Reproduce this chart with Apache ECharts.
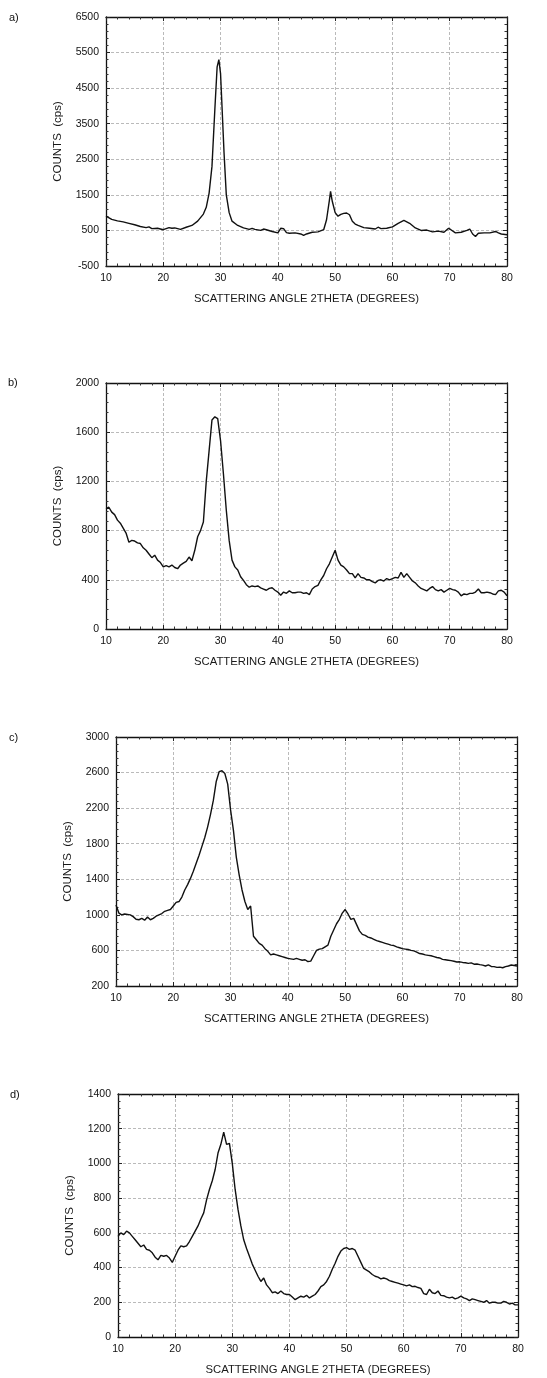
<!DOCTYPE html>
<html>
<head>
<meta charset="utf-8">
<script src="https://cdn.jsdelivr.net/npm/echarts@6/dist/echarts.min.js"></script>
<style>
  html, body { margin: 0; padding: 0; background: #fff; }
  #chart { width: 547px; height: 1378px; }
</style>
</head>
<body>
<div id="chart"></div>
<script>
// panel a) - 2theta positions and counts (cps)
const angleA = [
  10,11,12,13,14,15,16,17,17.5,18,
  19,20,21,21.5,22,23,24,25,26,27,
  27.5,28,28.5,29,29.4,29.7,30,30.3,30.6,31,
  31.5,32,33,34,35,35.5,36,37,37.5,38,
  39,40,40.5,41,41.5,42,43,44,44.5,45,
  46,47,48,48.5,49,49.2,49.5,50,50.5,51,
  51.5,52,52.5,53,53.5,54,55,56,57,57.5,
  58,59,60,61,62,63,64,65,66,67,
  68,69,69.8,70.2,71,72,73,73.5,74,74.5,
  75,76,77,78,78.5,79,80
]
const countsA = [
  900,810,770,740,700,660,610,580,600,550,
  560,520,580,560,570,530,590,640,760,960,
  1150,1550,2300,3900,5100,5300,4900,3800,2700,1500,
  1000,760,640,570,530,560,530,500,540,520,
  470,430,560,550,440,420,430,400,360,400,
  450,460,520,800,1350,1600,1320,1000,900,950,
  980,990,940,760,680,640,580,560,540,590,
  550,560,600,700,780,700,570,500,510,460,
  480,450,560,520,430,450,500,540,400,330,
  420,430,430,470,430,400,380
]

// panels b), c), d) share the same 0.5 degree scan positions
const angle = [
  10,10.5,11,11.5,12,12.5,13,13.5,14,14.5,15,15.5,16,16.5,17,17.5,18,18.5,19,19.5,
  20,20.5,21,21.5,22,22.5,23,23.5,24,24.5,25,25.5,26,26.5,27,27.5,28,28.5,29,29.5,
  30,30.5,31,31.5,32,32.5,33,33.5,34,34.5,35,35.5,36,36.5,37,37.5,38,38.5,39,39.5,
  40,40.5,41,41.5,42,42.5,43,43.5,44,44.5,45,45.5,46,46.5,47,47.5,48,48.5,49,49.5,
  50,50.5,51,51.5,52,52.5,53,53.5,54,54.5,55,55.5,56,56.5,57,57.5,58,58.5,59,59.5,
  60,60.5,61,61.5,62,62.5,63,63.5,64,64.5,65,65.5,66,66.5,67,67.5,68,68.5,69,69.5,
  70,70.5,71,71.5,72,72.5,73,73.5,74,74.5,75,75.5,76,76.5,77,77.5,78,78.5,79,79.5,
  80
]
const countsB = [
  978,990,950,930,885,860,820,780,705,720,715,700,695,660,640,610,580,600,560,540,
  505,515,505,520,500,490,520,535,550,585,555,640,750,800,870,1200,1450,1700,1725,1710,
  1530,1260,965,720,560,505,480,425,395,360,340,350,345,350,335,325,315,330,335,315,
  300,275,300,290,310,295,295,300,300,290,295,280,325,345,355,400,435,490,530,585,
  640,560,520,505,480,450,450,415,450,420,415,400,400,385,375,395,400,390,410,400,
  410,420,415,460,420,450,420,390,375,350,330,320,310,330,345,320,310,320,300,315,
  330,320,315,300,270,285,280,290,290,300,325,295,295,300,295,285,280,310,315,300,
  270
]
const countsC = [
  1110,1020,1000,1010,1005,1000,980,950,945,960,940,975,945,960,985,1000,1015,1040,1050,1060,
  1100,1140,1150,1200,1280,1340,1410,1490,1580,1670,1770,1870,1990,2130,2290,2500,2610,2620,2590,2470,
  2180,1950,1650,1450,1280,1150,1060,1100,760,720,680,660,620,590,550,560,550,540,530,520,
  510,505,500,510,500,490,495,475,480,540,600,615,620,640,660,760,830,900,950,1020,
  1060,1010,950,960,890,820,780,770,750,740,725,710,700,690,680,670,660,655,640,630,
  620,615,610,600,595,580,565,560,550,545,540,530,520,515,500,495,490,485,478,470,
  472,465,462,455,460,445,448,440,435,425,437,420,418,410,412,405,418,425,436,430,
  425
]
const countsD = [
  580,600,590,610,600,580,560,540,520,530,505,500,485,460,445,470,465,470,455,430,
  465,500,525,520,525,550,580,610,640,680,715,790,850,900,965,1060,1110,1180,1110,1115,
  1000,850,735,640,560,510,465,420,385,350,320,340,300,280,255,260,250,265,250,245,
  245,230,215,225,235,230,240,225,235,245,265,290,300,320,350,390,425,465,495,510,
  515,505,510,500,465,430,395,385,375,360,350,345,335,340,335,325,320,315,310,305,
  300,295,300,290,292,285,280,250,245,275,255,250,265,240,238,230,225,230,220,225,
  235,225,220,210,220,215,210,205,200,210,195,200,200,195,195,205,200,190,195,185,
  185
]

const panelLabels = ['a)', 'b)', 'c)', 'd)']
const xName = 'SCATTERING ANGLE 2THETA (DEGREES)'
const yName = 'COUNTS  (cps)'
const yRanges = [[-500, 6500, 1000], [0, 2000, 400], [200, 3000, 400], [0, 1400, 200]]

const panels = [
  { x: angleA, y: countsA },
  { x: angle, y: countsB },
  { x: angle, y: countsC },
  { x: angle, y: countsD }
]

const grids = [
  { left: 106, top: 17, width: 401, height: 249 },
  { left: 106, top: 383, width: 401, height: 246 },
  { left: 116, top: 737, width: 401, height: 249 },
  { left: 118, top: 1094, width: 400, height: 243 }
]
const labelPos = [[9, 12], [8, 377], [9, 732], [10, 1089]]

const FONT = "'Liberation Sans', Arial, sans-serif"
const frame = { show: true, onZero: false, lineStyle: { color: '#111', width: 1.3 } }
const tick = { show: true, inside: true, length: 4, lineStyle: { color: '#222', width: 1 } }
const minor = { show: true, splitNumber: 5, length: 2.5, lineStyle: { color: '#333', width: 1 } }
const grid = { show: true, lineStyle: { color: '#a8a8a8', width: 0.8, type: [3, 2] } }
const plain = v => String(v)

const xAxes = []
const yAxes = []
const series = []

panels.forEach((p, i) => {
  const [ymin, ymax, yint] = yRanges[i]
  // bottom axis with labels
  xAxes.push({
    gridIndex: i, type: 'value', min: 10, max: 80, interval: 10,
    name: xName, nameLocation: 'middle', nameGap: 27,
    nameTextStyle: { fontFamily: FONT, fontSize: 11.3, color: '#1a1a1a' },
    axisLine: frame, axisTick: tick, minorTick: minor, splitLine: grid,
    axisLabel: { fontFamily: FONT, fontSize: 10.5, color: '#111', margin: 7, formatter: plain }
  })
  // top axis, ticks only
  xAxes.push({
    gridIndex: i, type: 'value', position: 'top', min: 10, max: 80, interval: 10,
    axisLine: frame, axisTick: tick, minorTick: minor, splitLine: { show: false },
    axisLabel: { show: false }
  })
  yAxes.push({
    gridIndex: i, type: 'value', min: ymin, max: ymax, interval: yint,
    name: yName, nameLocation: 'middle', nameGap: 42,
    nameTextStyle: { fontFamily: FONT, fontSize: 11.5, color: '#1a1a1a' },
    axisLine: frame, axisTick: tick, minorTick: minor, splitLine: grid,
    axisLabel: { fontFamily: FONT, fontSize: 10.5, color: '#111', margin: 7, formatter: plain }
  })
  yAxes.push({
    gridIndex: i, type: 'value', position: 'right', min: ymin, max: ymax, interval: yint,
    axisLine: frame, axisTick: tick, minorTick: minor, splitLine: { show: false },
    axisLabel: { show: false }
  })
  series.push({
    type: 'line',
    xAxisIndex: i * 2,
    yAxisIndex: i * 2,
    data: p.x.map((a, k) => [a, p.y[k]]),
    symbol: 'none',
    smooth: false,
    lineStyle: { color: '#111', width: 1.4 },
    animation: false
  })
})

const chart = echarts.init(document.getElementById('chart'), null, { renderer: 'canvas' })
chart.setOption({
  backgroundColor: '#fff',
  animation: false,
  grid: grids,
  xAxis: xAxes,
  yAxis: yAxes,
  series: series,
  graphic: panelLabels.map((t, i) => ({
    type: 'text',
    left: labelPos[i][0],
    top: labelPos[i][1],
    style: { text: t, font: `11px ${FONT}`, fill: '#111' }
  }))
})

window.addEventListener('resize', () => chart.resize())
</script>
</body>
</html>
